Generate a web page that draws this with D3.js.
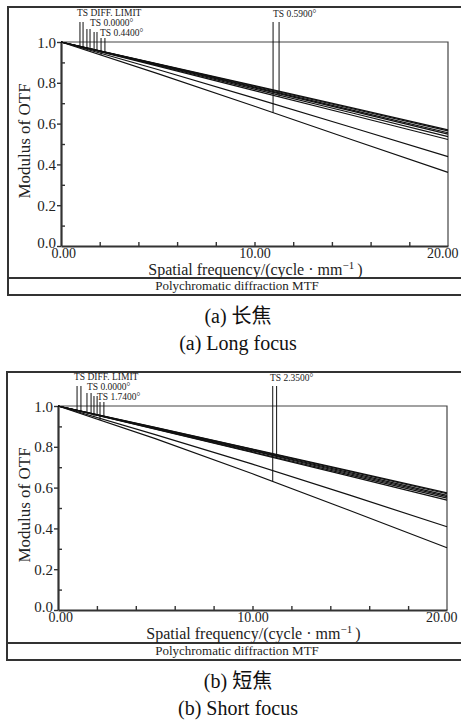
<!DOCTYPE html>
<html>
<head>
<meta charset="utf-8">
<script src="https://cdn.jsdelivr.net/npm/d3@7"></script>
<style>
body { margin: 0; background: #fff; }
svg { display: block; font-family: "Liberation Serif", "Times New Roman", "Noto Sans CJK SC", serif; }
</style>
</head>
<body>
<div id="chart"></div>
<script>
// sampled spatial frequencies (cycle/mm)
var freqs = [0, 5, 10, 15, 20];

// (a) long focus: T/S pairs for diff. limit, 0.00°, 0.44°, 0.59°
var longFields = ["TS DIFF. LIMIT", "TS 0.0000°", "TS 0.4400°", "TS 0.5900°"];
var longMTF = [
    [1, 0.893, 0.786, 0.678, 0.569],
    [1, 0.892, 0.783, 0.674, 0.564],
    [1, 0.890, 0.779, 0.667, 0.555],
    [1, 0.888, 0.775, 0.662, 0.548],
    [1, 0.865, 0.725, 0.582, 0.438],
    [1, 0.885, 0.769, 0.653, 0.536],
    [1, 0.845, 0.685, 0.522, 0.361],
    [1, 0.882, 0.762, 0.642, 0.522]
];
// frequency where each curve's label pointer touches it
var longMarks = [0.98, 1.14, 1.34, 1.50, 1.71, 1.86, 2.07, 2.27];
var longMarksEdge = [10.96, 11.27];   // last field pair, right-hand label

// (b) short focus: T/S pairs for diff. limit, 0.00°, 1.74°, 2.35°
var shortFields = ["TS DIFF. LIMIT", "TS 0.0000°", "TS 1.7400°", "TS 2.3500°"];
var shortMTF = [
    [1, 0.895, 0.789, 0.682, 0.574],
    [1, 0.894, 0.787, 0.679, 0.570],
    [1, 0.892, 0.783, 0.673, 0.562],
    [1, 0.890, 0.780, 0.668, 0.556],
    [1, 0.860, 0.715, 0.563, 0.408],
    [1, 0.888, 0.775, 0.662, 0.548],
    [1, 0.840, 0.668, 0.488, 0.305],
    [1, 0.886, 0.772, 0.656, 0.539]
];
var shortMarks = [0.98, 1.18, 1.49, 1.70, 1.85, 2.01, 2.16, 2.36];
var shortMarksEdge = [11.04, 11.24];

var yTicks = [0, 0.2, 0.4, 0.6, 0.8, 1.0];
var yMinorTicks = [0.1, 0.3, 0.5, 0.7, 0.9];
var xTickLabels = [0, 10, 20];
var xMinorTicks = [2, 4, 6, 8, 10, 12, 14, 16, 18];

var svg = d3.select("#chart")
    .append("svg")
    .attr("width", 461)
    .attr("height", 725);

var ink = "#222";

function drawPanel(cfg) {
    var x = d3.scaleLinear().domain([0, 20]).range([cfg.left, cfg.right]);
    var y = d3.scaleLinear().domain([0, 1]).range([cfg.bottom, cfg.top]);
    var g = svg.append("g");

    // outer frame (runs off the right edge) and footer separator
    g.append("rect")
        .attr("x", cfg.frameLeft)
        .attr("y", cfg.frameTop)
        .attr("width", 470 - cfg.frameLeft)
        .attr("height", cfg.frameBottom - cfg.frameTop)
        .attr("fill", "none")
        .attr("stroke", "#333")
        .attr("stroke-width", 2);
    g.append("line")
        .attr("x1", cfg.frameLeft).attr("x2", 470)
        .attr("y1", cfg.sep).attr("y2", cfg.sep)
        .attr("stroke", "#333")
        .attr("stroke-width", 2);

    // thin top and right border of the plot
    g.append("path")
        .attr("d", "M" + cfg.left + "," + cfg.top + "H" + cfg.right + "V" + cfg.bottom)
        .attr("fill", "none")
        .attr("stroke", "#444")
        .attr("stroke-width", 1.2);

    // minor ticks point into the plot
    var xMinor = g.append("g")
        .attr("transform", "translate(0," + cfg.bottom + ")")
        .call(d3.axisBottom(x).tickValues(xMinorTicks).tickSize(-4).tickFormat(""));
    xMinor.select(".domain").remove();
    var yMinor = g.append("g")
        .attr("transform", "translate(" + cfg.left + ",0)")
        .call(d3.axisLeft(y).tickValues(yMinorTicks).tickSize(-4).tickFormat(""));
    yMinor.select(".domain").remove();

    // y axis
    var yAxis = g.append("g")
        .attr("transform", "translate(" + cfg.left + ",0)")
        .call(d3.axisLeft(y).tickValues(yTicks).tickSize(4).tickPadding(1).tickSizeOuter(0)
            .tickFormat(d3.format(".1f")));
    yAxis.attr("font-family", null).attr("font-size", null);
    yAxis.selectAll("text")
        .attr("font-size", 15)
        .attr("fill", ink)
        .attr("dy", function(d) { return d === 0 ? "0.1em" : "0.34em"; });

    // x axis, labels only at 0, 10, 20
    var xAxis = g.append("g")
        .attr("transform", "translate(0," + cfg.bottom + ")")
        .call(d3.axisBottom(x).tickValues(xTickLabels).tickSize(0).tickPadding(2).tickSizeOuter(0)
            .tickFormat(d3.format(".2f")));
    xAxis.attr("font-family", null).attr("font-size", null);
    xAxis.selectAll("text")
        .attr("font-size", 14)
        .attr("fill", ink)
        .attr("x", function(d) { return d === 0 ? -10 : (d === 20 ? 10 : 0); })
        .attr("text-anchor", function(d) { return d === 0 ? "start" : (d === 20 ? "end" : "middle"); });

    g.selectAll(".domain").attr("stroke", "#333").attr("stroke-width", 2.2);
    g.selectAll(".tick line").attr("stroke", "#333").attr("stroke-width", 1.4);

    // MTF curves
    var line = d3.line()
        .x(function(d, i) { return x(freqs[i]); })
        .y(function(d) { return y(d); });
    g.selectAll(".curve")
        .data(cfg.mtf)
        .enter().append("path")
        .attr("class", "curve")
        .attr("d", line)
        .attr("fill", "none")
        .attr("stroke", "#111")
        .attr("stroke-width", 1.2);

    function valueAt(series, f) {
        return d3.scaleLinear().domain(freqs).range(series)(f);
    }

    // label pointers
    var startOff = [-20, -20, -13, -13, -10, -10, -4, -4];
    cfg.marks.forEach(function(f, i) {
        g.append("line")
            .attr("x1", x(f)).attr("x2", x(f))
            .attr("y1", cfg.top + startOff[i])
            .attr("y2", y(valueAt(cfg.mtf[i], f)))
            .attr("stroke", "#111")
            .attr("stroke-width", 1);
    });
    cfg.marksEdge.forEach(function(f, i) {
        g.append("line")
            .attr("x1", x(f)).attr("x2", x(f))
            .attr("y1", cfg.top - 20)
            .attr("y2", y(valueAt(cfg.mtf[6 + i], f)))
            .attr("stroke", "#111")
            .attr("stroke-width", 1);
    });

    // field labels
    var labelPos = [[16, -26], [29, -16], [39, -6], [212, -25]];
    cfg.fields.forEach(function(t, i) {
        g.append("text")
            .attr("x", cfg.left + labelPos[i][0])
            .attr("y", cfg.top + labelPos[i][1])
            .attr("font-size", 9.5)
            .attr("fill", ink)
            .text(t);
    });

    // axis titles
    g.append("text")
        .attr("transform", "translate(30," + ((cfg.top + cfg.bottom) / 2 - 3) + ") rotate(-90)")
        .attr("text-anchor", "middle")
        .attr("font-size", 17)
        .attr("fill", ink)
        .text("Modulus of OTF");

    var xt = g.append("text")
        .attr("x", (cfg.left + cfg.right) / 2 + 1)
        .attr("y", cfg.bottom + 28.5)
        .attr("text-anchor", "middle")
        .attr("font-size", 16)
        .attr("fill", ink);
    xt.append("tspan").text("Spatial frequency/(cycle · mm");
    xt.append("tspan").attr("dy", -6).attr("font-size", 11).text("−1");
    xt.append("tspan").attr("dy", 6).text("\u2009)");

    g.append("text")
        .attr("x", 237)
        .attr("y", cfg.frameBottom - 5)
        .attr("text-anchor", "middle")
        .attr("font-size", 13)
        .attr("fill", ink)
        .text("Polychromatic diffraction MTF");

    // captions under the frame
    g.append("text")
        .attr("x", 238)
        .attr("y", cfg.frameBottom + 28)
        .attr("text-anchor", "middle")
        .attr("font-size", 20)
        .attr("fill", "#111")
        .text(cfg.caption1);
    g.append("text")
        .attr("x", 238)
        .attr("y", cfg.frameBottom + 55)
        .attr("text-anchor", "middle")
        .attr("font-size", 20)
        .attr("fill", "#111")
        .text(cfg.caption2);
}

drawPanel({
    frameLeft: 8, frameTop: 7, frameBottom: 295, sep: 278,
    left: 61, right: 448, top: 42, bottom: 246,
    mtf: longMTF, marks: longMarks, marksEdge: longMarksEdge, fields: longFields,
    caption1: "(a) 长焦", caption2: "(a) Long focus"
});

drawPanel({
    frameLeft: 7, frameTop: 372, frameBottom: 660, sep: 643,
    left: 58, right: 447, top: 406, bottom: 610,
    mtf: shortMTF, marks: shortMarks, marksEdge: shortMarksEdge, fields: shortFields,
    caption1: "(b) 短焦", caption2: "(b) Short focus"
});
</script>
</body>
</html>
